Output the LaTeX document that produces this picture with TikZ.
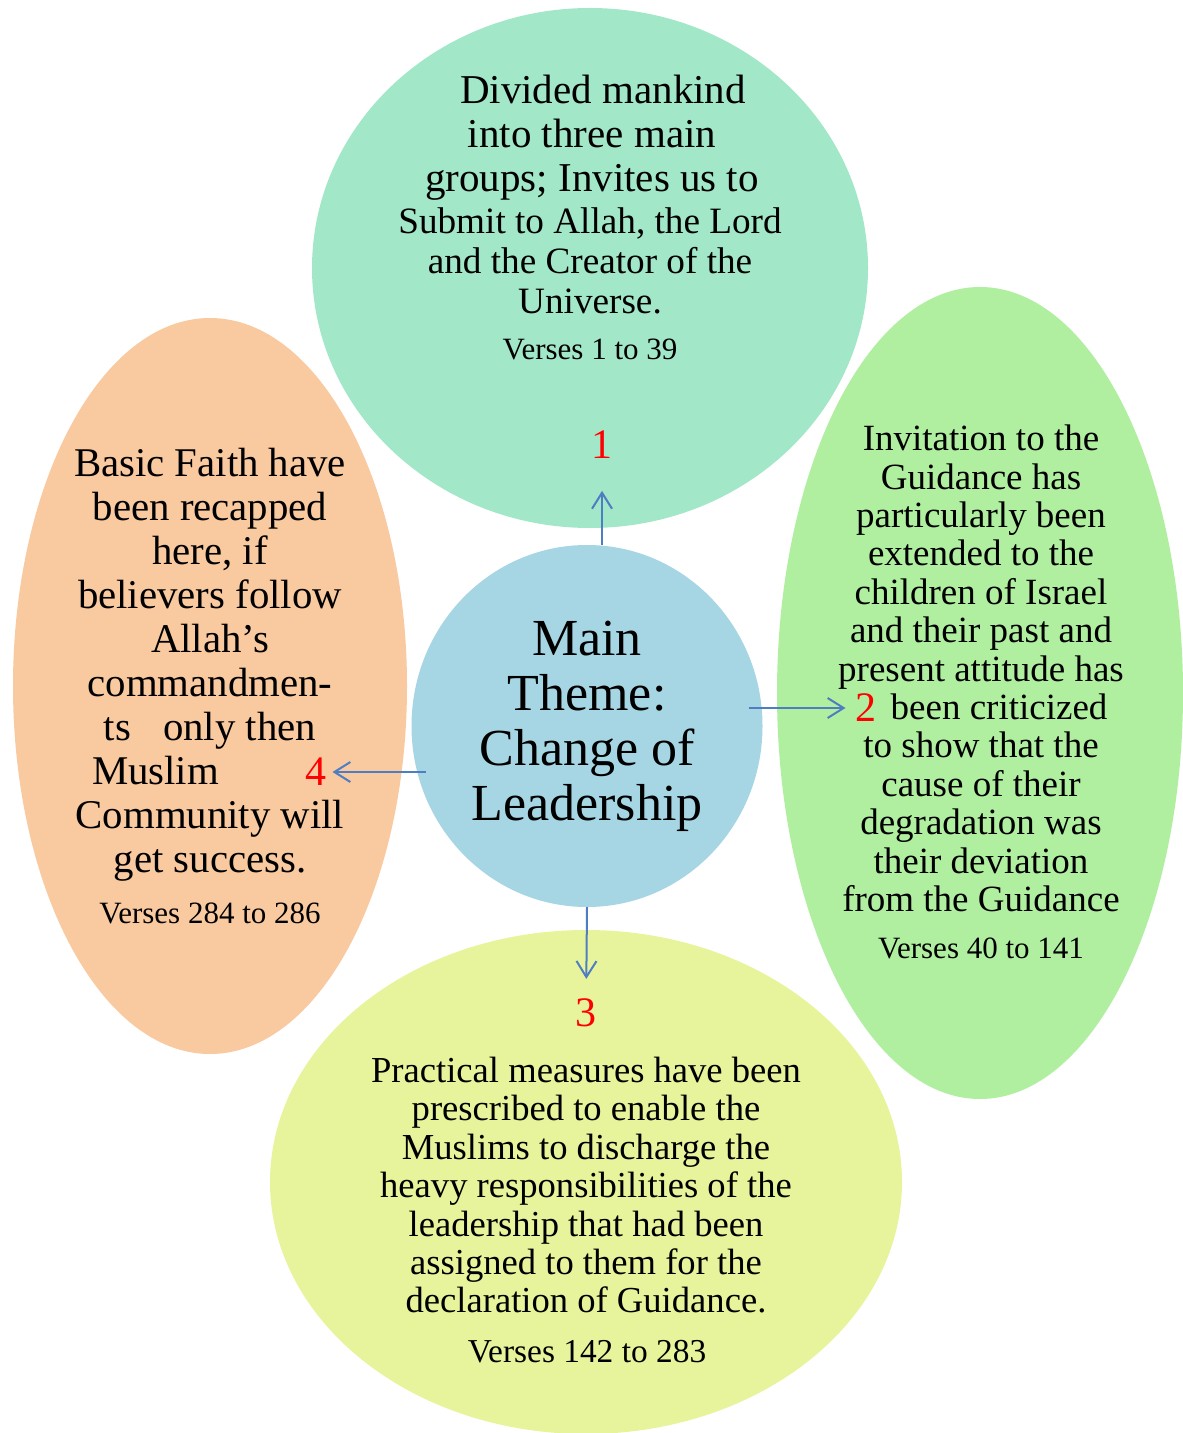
\documentclass[tikz,border=0pt]{standalone}
\usepackage{fontspec}
\setmainfont{Liberation Serif}
\usetikzlibrary{shapes.geometric}
\usetikzlibrary{arrows.meta}

\definecolor{topgreen}{HTML}{A3E7C9}
\definecolor{mainblue}{HTML}{A6D5E3}
\definecolor{rightgreen}{HTML}{B0EFA0}
\definecolor{leftorange}{HTML}{F9C9A0}
\definecolor{bottomlime}{HTML}{E7F49B}
\definecolor{arrowblue}{HTML}{4F7DC2}

\begin{document}
\begin{tikzpicture}[x=0.5pt,y=-0.5pt,every node/.style={inner sep=0pt,outer sep=0pt},
  bubble/.style={ellipse,draw=none},
  txt/.style={align=center,text=black,anchor=north},
  verse/.style={align=center,anchor=north,font=\fontsize{15.5pt}{18pt}\selectfont},
  num/.style={text=red,font=\fontsize{21pt}{24pt}\selectfont},
  arr/.style={draw=arrowblue,line width=1pt,-{Straight Barb[length=8pt,width=10pt]}}]
\useasboundingbox (0,0) rectangle (1182,1433);
% bubbles
\node[bubble, fill=topgreen, minimum width=278pt, minimum height=260pt] (B1) at (590,268) {};
\node[bubble, fill=rightgreen, minimum width=203pt, minimum height=406pt] (B2) at (980,693) {};
\node[bubble, fill=bottomlime, minimum width=316pt, minimum height=252pt] (B3) at (586,1182) {};
\node[bubble, fill=leftorange, minimum width=197pt, minimum height=368pt] (B4) at (210,686) {};
\node[bubble, fill=mainblue, minimum width=175.5pt, minimum height=181pt, align=center,
  font=\fontsize{26pt}{27.5pt}\selectfont] (M) at (587,726) {Main\\Theme:\\Change of\\Leadership};
% texts
\node[txt, font=\fontsize{20.5pt}{22pt}\selectfont] (T1a) at (592,75) {\hspace*{11pt}Divided mankind\\into three main\\groups; Invites us to};
\node[txt, font=\fontsize{18.6pt}{20pt}\selectfont] (T1b) at (590,208) {Submit to Allah, the Lord\\and the Creator of the\\Universe.};
\node[verse] (V1) at (590,339) {Verses 1 to 39};
\node[txt, font=\fontsize{18.5pt}{19.2pt}\selectfont] (T2) at (981,425) {Invitation to the\\Guidance has\\particularly been\\extended to the\\children of Israel\\and their past and\\present attitude has\\\hspace*{18pt}been criticized\\to show that the\\cause of their\\degradation was\\their deviation\\from the Guidance};
\node[verse] (V2) at (981,938) {Verses 40 to 141};
\node[txt, font=\fontsize{18.3pt}{19.2pt}\selectfont] (T3) at (586,1057) {Practical measures have been\\prescribed to enable the\\Muslims to discharge the\\heavy responsibilities of the\\leadership that had been\\assigned to them for the\\declaration of Guidance.};
\node[verse, font=\fontsize{16.7pt}{18pt}\selectfont] (V3) at (587,1340) {Verses 142 to 283};
\node[txt, font=\fontsize{20.4pt}{22pt}\selectfont] (T4) at (210,448) {Basic Faith have\\been recapped\\here, if\\believers follow\\Allah’s\\commandmen-\\ts\hspace*{16pt}only then\\\makebox[118pt][l]{Muslim}\\Community will\\get success.};
\node[verse] (V4) at (210,903) {Verses 284 to 286};
% numbers
\node[num] (N1) at (602,445) {1};
\node[num] (N2) at (866,708) {2};
\node[num] (N3) at (586,1013) {3};
\node[num] (N4) at (316,772) {4};
% arrows
\draw[arr, shorten >=16pt] (M.north -| N1) -- (N1);
\draw[arr, shorten <=-7pt, shorten >=5pt] (M.east |- N2) -- (N2);
\draw[arr, shorten >=10pt] (M.south) -- (N3);
\draw[arr, shorten <=-7pt, shorten >=3pt] (M.west |- N4) -- (N4);
\end{tikzpicture}
\end{document}
